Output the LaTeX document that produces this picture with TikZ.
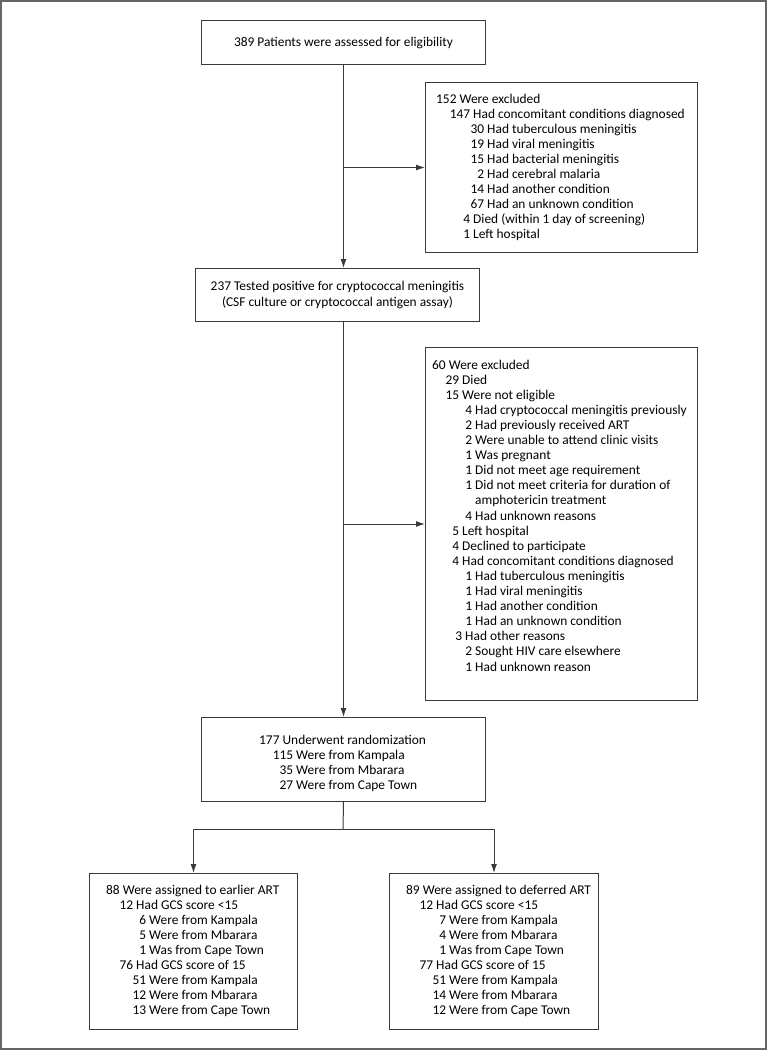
\documentclass[tikz,border=0pt]{standalone}
\usepackage{fontspec}
\setmainfont{Carlito}
\usetikzlibrary{arrows.meta}
\definecolor{boxline}{HTML}{3A3A3A}
\definecolor{frame}{HTML}{666666}
\newcommand\R[2]{\makebox[#1pt][r]{#2}\ }
\newcommand\LL[1]{\hbox{\strut #1}}
\newcommand\Lines[1]{\vtop{\baselineskip=15.1pt\lineskiplimit=-20pt\def\strut{}#1}}
\tikzset{
  box/.style={draw=boxline, line width=1pt, inner sep=0pt, anchor=north west},
  txt/.style={inner sep=0pt, anchor=base west, font=\fontsize{13.4}{15.1}\selectfont},
  ctxt/.style={font=\fontsize{13.4}{16}\selectfont, align=center},
  conn/.style={draw=boxline, line width=1pt},
  arr/.style={conn, -{Latex[length=9pt,width=6pt]}}
}
\begin{document}
\begin{tikzpicture}[x=1pt,y=-1pt]
\useasboundingbox (0,0) rectangle (767,1050);
\draw[frame, line width=2pt] (1,1) rectangle (766,1049);

% main boxes
\node[box, minimum width=284pt, minimum height=44pt, ctxt] (b1) at (201,20) {389 Patients were assessed for eligibility};
\node[box, minimum width=272pt, minimum height=170pt] (e1) at (425,82) {};
\node[box, minimum width=284pt, minimum height=53pt, ctxt] (b2) at (195,268) {237 Tested positive for cryptococcal meningitis\\(CSF culture or cryptococcal antigen assay)};
\node[box, minimum width=272pt, minimum height=353pt] (e2) at (425,347) {};
\node[box, minimum width=284pt, minimum height=84pt] (b3) at (201,717) {};
\node[box, minimum width=208pt, minimum height=156pt] (bl) at (89,873) {};
\node[box, minimum width=209pt, minimum height=156pt] (br) at (389,873) {};

% texts
\node[txt] (t1) at (436,103) {\Lines{%
\LL{152 Were excluded}
\LL{\R{34}{147}Had concomitant conditions diagnosed}
\LL{\R{48}{30}Had tuberculous meningitis}
\LL{\R{48}{19}Had viral meningitis}
\LL{\R{48}{15}Had bacterial meningitis}
\LL{\R{48}{2}Had cerebral malaria}
\LL{\R{48}{14}Had another condition}
\LL{\R{48}{67}Had an unknown condition}
\LL{\R{34}{4}Died (within 1 day of screening)}
\LL{\R{34}{1}Left hospital}}};

\node[txt] (t2) at (432,369) {\Lines{%
\LL{60 Were excluded}
\LL{\R{27}{29}Died}
\LL{\R{27}{15}Were not eligible}
\LL{\R{40}{4}Had cryptococcal meningitis previously}
\LL{\R{40}{2}Had previously received ART}
\LL{\R{40}{2}Were unable to attend clinic visits}
\LL{\R{40}{1}Was pregnant}
\LL{\R{40}{1}Did not meet age requirement}
\LL{\R{40}{1}Did not meet criteria for duration of}
\LL{\R{40}{}amphotericin treatment}
\LL{\R{40}{4}Had unknown reasons}
\LL{\R{27}{5}Left hospital}
\LL{\R{27}{4}Declined to participate}
\LL{\R{27}{4}Had concomitant conditions diagnosed}
\LL{\R{40}{1}Had tuberculous meningitis}
\LL{\R{40}{1}Had viral meningitis}
\LL{\R{40}{1}Had another condition}
\LL{\R{40}{1}Had an unknown condition}
\LL{\R{30}{3}Had other reasons}
\LL{\R{40}{2}Sought HIV care elsewhere}
\LL{\R{40}{1}Had unknown reason}}};

\node[txt] (t3) at (259,744) {\Lines{%
\LL{177 Underwent randomization}
\LL{\R{34}{115}Were from Kampala}
\LL{\R{34}{35}Were from Mbarara}
\LL{\R{34}{27}Were from Cape Town}}};

\node[txt] (tl) at (106,894) {\Lines{%
\LL{88 Were assigned to earlier ART}
\LL{\R{27}{12}Had GCS score <15}
\LL{\R{40}{6}Were from Kampala}
\LL{\R{40}{5}Were from Mbarara}
\LL{\R{40}{1}Was from Cape Town}
\LL{\R{27}{76}Had GCS score of 15}
\LL{\R{40}{51}Were from Kampala}
\LL{\R{40}{12}Were from Mbarara}
\LL{\R{40}{13}Were from Cape Town}}};

\node[txt] (tr) at (406,894) {\Lines{%
\LL{89 Were assigned to deferred ART}
\LL{\R{27}{12}Had GCS score <15}
\LL{\R{40}{7}Were from Kampala}
\LL{\R{40}{4}Were from Mbarara}
\LL{\R{40}{1}Was from Cape Town}
\LL{\R{27}{77}Had GCS score of 15}
\LL{\R{40}{51}Were from Kampala}
\LL{\R{40}{14}Were from Mbarara}
\LL{\R{40}{12}Were from Cape Town}}};

% connectors
\draw[arr] (b1.south) -- (b1.south |- b2.north);
\draw[arr] (b1.south |- e1.west) -- (e1.west);
\draw[arr] (b2.south -| b1.south) -- (b3.north);
\draw[arr] (b1.south |- e2.west) -- (e2.west);
\coordinate (s) at (343,829);
\draw[conn] (b3.south) -- (s);
\draw[arr] (s) -| (bl.north);
\draw[arr] (s) -| (br.north);
\end{tikzpicture}
\end{document}
